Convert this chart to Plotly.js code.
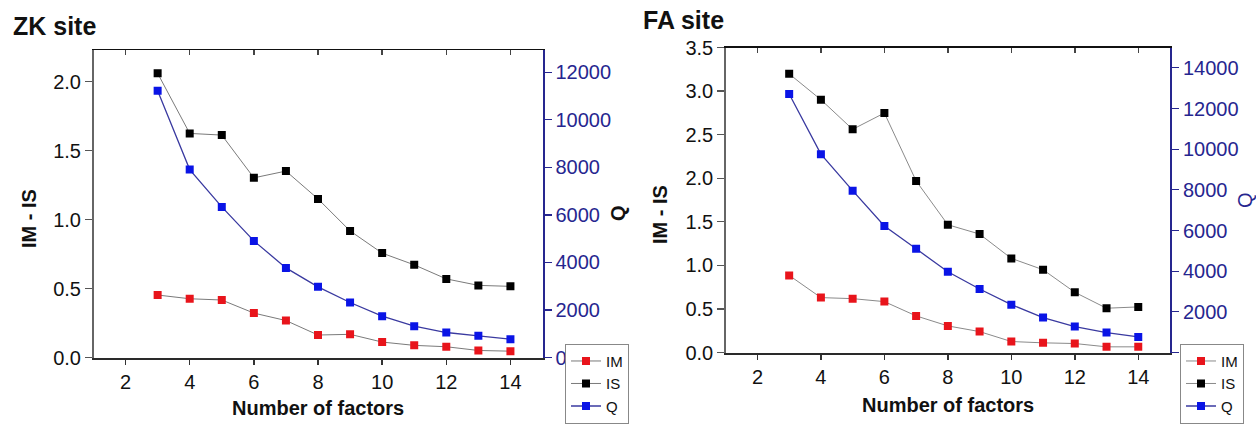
<!DOCTYPE html>
<html>
<head>
<meta charset="utf-8">
<script src="https://cdn.plot.ly/plotly-3.0.1.min.js"></script>
<style>html,body{margin:0;padding:0;background:#fff;}#chart{width:1256px;height:425px;}</style>
</head>
<body>
<div id="chart"></div>
<script>
// ---- data ----
const factors = [3, 4, 5, 6, 7, 8, 9, 10, 11, 12, 13, 14];
const xTicks = [2, 4, 6, 8, 10, 12, 14];

// ZK site
const zkIM = [0.453, 0.426, 0.417, 0.322, 0.268, 0.163, 0.168, 0.112, 0.088, 0.078, 0.051, 0.046];
const zkIS = [2.061, 1.625, 1.613, 1.303, 1.352, 1.150, 0.918, 0.757, 0.672, 0.570, 0.523, 0.516];
const zkQ  = [11230, 7907, 6337, 4907, 3771, 2972, 2313, 1738, 1318, 1051, 911, 771];

// FA site
const faIM = [0.885, 0.630, 0.618, 0.584, 0.420, 0.305, 0.240, 0.126, 0.111, 0.103, 0.065, 0.065];
const faIS = [3.198, 2.901, 2.561, 2.748, 1.969, 1.466, 1.359, 1.080, 0.950, 0.691, 0.508, 0.523];
const faQ  = [12712, 9755, 7958, 6225, 5098, 3971, 3121, 2353, 1716, 1275, 980, 768];

const seriesNames = ['IM', 'IS', 'Q'];

// ---- styling ----
const W = 1256, H = 425;
const px = v => v / W;
const py = v => 1 - v / H;
const FONT = 'Liberation Sans, Arial, sans-serif';
const NAVY = '#26268f';
const RED = '#e8141b', BLACK = '#000000', BLUE = '#0a14e6';

function ser(x, y, name, color, lineColor, lw, xa, ya, legend) {
  return {
    x: x, y: y, name: name, type: 'scatter', mode: 'lines+markers',
    xaxis: xa, yaxis: ya, legend: legend,
    line: {color: lineColor, width: lw},
    marker: {symbol: 'square', size: 8, color: color},
    hoverinfo: 'x+y'
  };
}

const traces = [
  ser(factors, zkIM, seriesNames[0], RED, '#7a7a7a', 1, 'x', 'y', 'legend'),
  ser(factors, zkIS, seriesNames[1], BLACK, '#7a7a7a', 1, 'x', 'y', 'legend'),
  ser(factors, zkQ, seriesNames[2], BLUE, '#3a3aa0', 1.3, 'x', 'y2', 'legend'),
  ser(factors, faIM, seriesNames[0], RED, '#8a8a8a', 1, 'x2', 'y3', 'legend2'),
  ser(factors, faIS, seriesNames[1], BLACK, '#8a8a8a', 1, 'x2', 'y3', 'legend2'),
  ser(factors, faQ, seriesNames[2], BLUE, '#3a3aa0', 1.3, 'x2', 'y4', 'legend2'),
  // helper (invisible) traces to draw top frame axes with inward ticks
  {x: factors, y: zkIM, xaxis: 'x3', yaxis: 'y', mode: 'markers', marker: {opacity: 0}, showlegend: false, hoverinfo: 'skip'},
  {x: factors, y: faIM, xaxis: 'x4', yaxis: 'y3', mode: 'markers', marker: {opacity: 0}, showlegend: false, hoverinfo: 'skip'}
];

const zkDomX = [px(93.5), px(542.5)], zkDomY = [py(357.5), py(50)];
const faDomX = [px(725.7), px(1170)], faDomY = [py(352.5), py(47.5)];

const tickFont = {family: FONT, size: 20, color: '#111'};
const navyFont = {family: FONT, size: 20, color: NAVY};

function xaxisDef(dom, anchor) {
  return {
    domain: dom, anchor: anchor, range: [1, 15], tickvals: xTicks,
    ticks: 'outside', ticklen: 5, tickwidth: 1.5, tickcolor: '#333',
    showline: true, linecolor: '#2a2a2a', linewidth: 2,
    showgrid: false, zeroline: false, tickfont: tickFont, fixedrange: true
  };
}
function topAxis(dom, anchor, over) {
  return {
    domain: dom, anchor: anchor, overlaying: over, side: 'top', range: [1, 15], tickvals: xTicks,
    ticks: 'inside', ticklen: 5, tickwidth: 1.5, tickcolor: '#444', showticklabels: false,
    showline: true, linecolor: '#111', linewidth: 1.5, showgrid: false, zeroline: false
  };
}

const legendCommon = {
  xanchor: 'left', yanchor: 'bottom', y: 0.003,
  bgcolor: '#fff', bordercolor: '#888', borderwidth: 1,
  font: {family: FONT, size: 15, color: '#111'}, tracegroupgap: 0, itemwidth: 30
};

const layout = {
  width: W, height: H,
  margin: {l: 0, r: 0, t: 0, b: 0},
  paper_bgcolor: '#fff', plot_bgcolor: 'rgba(0,0,0,0)',
  font: {family: FONT, color: '#111'},
  showlegend: true,
  xaxis: xaxisDef(zkDomX, 'y'),
  xaxis2: xaxisDef(faDomX, 'y3'),
  xaxis3: topAxis(zkDomX, 'y', 'x'),
  xaxis4: topAxis(faDomX, 'y3', 'x2'),
  yaxis: {
    domain: zkDomY, anchor: 'x', range: [0, 2.23], tickvals: [0, 0.5, 1.0, 1.5, 2.0],
    ticktext: ['0.0', '0.5', '1.0', '1.5', '2.0'],
    ticks: 'outside', ticklen: 7, tickwidth: 1.2, tickcolor: '#555',
    showline: true, linecolor: '#666', linewidth: 1.5, showgrid: false, zeroline: false,
    tickfont: tickFont
  },
  yaxis2: {
    domain: zkDomY, anchor: 'x', overlaying: 'y', side: 'right', range: [0, 12940],
    tickvals: [0, 2000, 4000, 6000, 8000, 10000, 12000], ticktext: ['0', '2000', '4000', '6000', '8000', '10000', '12000'],
    ticks: 'outside', ticklen: 7, tickwidth: 1.2, tickcolor: NAVY,
    showline: true, linecolor: NAVY, linewidth: 2, showgrid: false, zeroline: false,
    tickfont: navyFont
  },
  yaxis3: {
    domain: faDomY, anchor: 'x2', range: [0, 3.5], tickvals: [0, 0.5, 1, 1.5, 2, 2.5, 3, 3.5],
    ticktext: ['0.0', '0.5', '1.0', '1.5', '2.0', '2.5', '3.0', '3.5'],
    ticks: 'outside', ticklen: 7, tickwidth: 1.2, tickcolor: '#555',
    showline: true, linecolor: '#666', linewidth: 1.5, showgrid: false, zeroline: false,
    tickfont: tickFont
  },
  yaxis4: {
    domain: faDomY, anchor: 'x2', overlaying: 'y3', side: 'right', range: [0, 15000],
    tickvals: [0, 2000, 4000, 6000, 8000, 10000, 12000, 14000],
    ticktext: ['0', '2000', '4000', '6000', '8000', '10000', '12000', '14000'],
    ticks: 'outside', ticklen: 7, tickwidth: 1.2, tickcolor: NAVY,
    showline: true, linecolor: NAVY, linewidth: 2, showgrid: false, zeroline: false,
    tickfont: navyFont
  },
  legend: Object.assign({}, legendCommon, {x: px(565)}),
  legend2: Object.assign({}, legendCommon, {x: px(1180)}),
  annotations: [
    {text: '<b>ZK site</b>', x: px(11), y: py(26), xref: 'paper', yref: 'paper', xanchor: 'left', yanchor: 'middle', showarrow: false, font: {family: FONT, size: 25, color: '#111'}},
    {text: '<b>FA site</b>', x: px(641), y: py(20), xref: 'paper', yref: 'paper', xanchor: 'left', yanchor: 'middle', showarrow: false, font: {family: FONT, size: 25, color: '#111'}},
    {text: '<b>Number of factors</b>', x: px(318), y: py(408), xref: 'paper', yref: 'paper', xanchor: 'center', yanchor: 'middle', showarrow: false, font: {family: FONT, size: 20, color: '#111'}},
    {text: '<b>Number of factors</b>', x: px(948), y: py(405), xref: 'paper', yref: 'paper', xanchor: 'center', yanchor: 'middle', showarrow: false, font: {family: FONT, size: 20, color: '#111'}},
    {text: '<b>IM - IS</b>', x: px(29), y: py(218), xref: 'paper', yref: 'paper', xanchor: 'center', yanchor: 'middle', textangle: -90, showarrow: false, font: {family: FONT, size: 20, color: '#111'}},
    {text: '<b>IM - IS</b>', x: px(660), y: py(215), xref: 'paper', yref: 'paper', xanchor: 'center', yanchor: 'middle', textangle: -90, showarrow: false, font: {family: FONT, size: 20, color: '#111'}},
    {text: '<b>Q</b>', x: px(618), y: py(213), xref: 'paper', yref: 'paper', xanchor: 'center', yanchor: 'middle', textangle: -90, showarrow: false, font: {family: FONT, size: 20, color: '#111'}},
    {text: 'Q', x: px(1245), y: py(200), xref: 'paper', yref: 'paper', xanchor: 'center', yanchor: 'middle', textangle: -90, showarrow: false, font: {family: FONT, size: 20, color: NAVY}}
  ]
};

Plotly.newPlot('chart', traces, layout, {displayModeBar: false, staticPlot: true});
</script>
</body>
</html>
